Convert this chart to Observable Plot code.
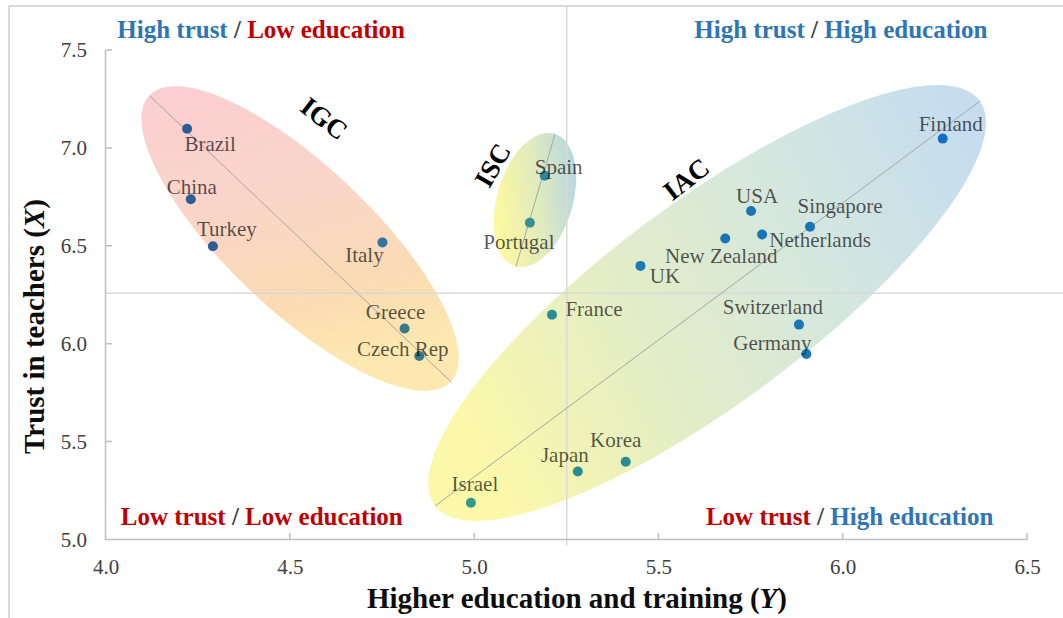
<!DOCTYPE html>
<html>
<head>
<meta charset="utf-8">
<script src="https://cdn.jsdelivr.net/npm/d3@7"></script>
<script src="https://cdn.jsdelivr.net/npm/@observablehq/plot@0.6"></script>
<style>
  html, body { margin: 0; padding: 0; background: #fff; }
  #wrap { position: relative; width: 1063px; height: 618px; overflow: hidden; }
  #frame { position: absolute; left: 8px; top: 5px; right: -4px; bottom: -4px;
           border-top: 2px solid #d9d9d9; border-left: 2px solid #d9d9d9; pointer-events: none; }
  svg { display: block; }
  svg text { font-family: 'Liberation Serif', 'Times New Roman', Times, serif; }
</style>
</head>
<body>
<div id="wrap"><div id="frame"></div></div>
<script>
// ---------------- data ----------------
const countries = ["Brazil","China","Turkey","Italy","Greece","Czech Rep","Spain","Portugal",
  "Finland","USA","New Zealand","Netherlands","Singapore","UK","France","Switzerland","Germany","Korea","Japan","Israel"];
const education = [4.22,4.23,4.29,4.75,4.81,4.85,5.19,5.15,
  6.27,5.75,5.68,5.78,5.91,5.45,5.21,5.88,5.90,5.41,5.28,4.99];
const trust = [7.10,6.74,6.50,6.52,6.08,5.94,6.86,6.62,
  7.05,6.68,6.54,6.56,6.60,6.40,6.15,6.10,5.95,5.40,5.35,5.19];

const clusterNames = ["IGC","ISC","IAC"];
const clusterCenterX = [4.528, 5.165, 5.632];
const clusterCenterY = [6.537, 6.734, 6.208];
const clusterTipX = [4.937, 5.218, 6.371];
const clusterTipY = [5.806, 7.072, 7.242];
const clusterLabelX = [4.591, 5.050, 5.575];
const clusterLabelY = [7.151, 6.913, 6.841];

const meanEducation = [5.25];
const meanTrust = [6.26];

const xTicks = [4.0, 4.5, 5.0, 5.5, 6.0, 6.5];
const yTicks = [5.0, 5.5, 6.0, 6.5, 7.0, 7.5];

const quadrantX = [4.422, 5.995, 4.424, 6.019];
const quadrantY = [7.602, 7.602, 5.116, 5.116];
const quadrantTrust = ["High trust", "High trust", "Low trust", "Low trust"];
const quadrantEdu = ["Low education", "High education", "Low education", "High education"];

// ---------------- styles ----------------
const ellipseRatio = [0.346, 0.55, 0.296];
const clusterRotate = [38, -60, -38];
const gradients = [
  {dir: [0, 0, 0.25, 1], stops: [[0, "#fbced2"], [0.45, "#fad5c8"], [0.8, "#fbdcb2"], [1, "#fde8b0"]]},
  {dir: [0, 0.3, 1, 0.1], stops: [[0, "#fbf8a0"], [0.5, "#dfeabf"], [1, "#b3d5e4"]]},
  {dir: [0, 0.6, 1, 0.2], stops: [[0, "#fbf8aa"], [0.35, "#e2edc8"], [0.7, "#d3e6e0"], [1, "#c5ddef"]]}
];
const dotColors = {
  "Brazil":"#2e5d96","China":"#2e5d96","Turkey":"#2e5d96","Italy":"#33739e","Greece":"#3a7a88","Czech Rep":"#3a7a88",
  "Spain":"#2a86a5","Portugal":"#3a8e96","Finland":"#1170c2","USA":"#1a72b8","New Zealand":"#1a72b8",
  "Netherlands":"#1a72b8","Singapore":"#1a74b8","UK":"#1c7cb4","France":"#2a8a9e","Switzerland":"#1a76b8",
  "Germany":"#1a76b8","Korea":"#2a8a96","Japan":"#2a8a96","Israel":"#35988a"
};
const labelOffsets = {
  "Brazil":[23,15],"China":[1,-12],"Turkey":[14,-17.5],"Italy":[-18,13],"Greece":[-9,-16],"Czech Rep":[-16.5,-7],
  "Spain":[14,-9],"Portugal":[-11,19.5],"Finland":[8,-14.5],"USA":[6,-14.5],"New Zealand":[-4,18],
  "Netherlands":[58,5.7],"Singapore":[30,-20.5],"UK":[24.5,10.5],"France":[42,-6],"Switzerland":[-26,-17.5],
  "Germany":[-34,-11],"Korea":[-10,-21],"Japan":[-13,-16.7],"Israel":[4,-18.4]
};
const FONT = "Liberation Serif";
const idx = countries.map((_, i) => i);
const cidx = clusterNames.map((_, i) => i);

function ellipsesMark(index, scales) {
  const {x, y} = scales;
  const g = d3.create("svg:g");
  const defs = g.append("defs");
  clusterNames.forEach((name, i) => {
    const cx = x(clusterCenterX[i]), cy = y(clusterCenterY[i]);
    const tx = x(clusterTipX[i]), ty = y(clusterTipY[i]);
    const a = Math.hypot(tx - cx, ty - cy), b = a * ellipseRatio[i];
    const ang = Math.atan2(ty - cy, tx - cx) * 180 / Math.PI;
    const ox = 2 * cx - tx, oy = 2 * cy - ty;
    const gd = gradients[i];
    const lg = defs.append("linearGradient").attr("id", "grad-" + name)
      .attr("x1", gd.dir[0]).attr("y1", gd.dir[1]).attr("x2", gd.dir[2]).attr("y2", gd.dir[3]);
    gd.stops.forEach(([o, c]) => lg.append("stop").attr("offset", o).attr("stop-color", c));
    g.append("path")
      .attr("d", `M${tx},${ty}A${a},${b} ${ang} 0 1 ${ox},${oy}A${a},${b} ${ang} 0 1 ${tx},${ty}Z`)
      .attr("fill", `url(#grad-${name})`);
  });
  return g.node();
}

function axisLinesMark(index, scales) {
  const {x, y} = scales;
  const x0 = xTicks[0], x1 = xTicks[xTicks.length - 1], y0 = yTicks[0], y1 = yTicks[yTicks.length - 1];
  let d = `M${x(x0)},${y(y1)}V${y(y0)}H${x(x1)}`;
  xTicks.forEach(t => d += `M${x(t)},${y(y0)}v-6.5`);
  yTicks.forEach(t => d += `M${x(x0)},${y(t)}h6.5`);
  const g = d3.create("svg:g");
  g.append("path").attr("d", d).attr("fill", "none").attr("stroke", "#bfbfbf").attr("stroke-width", 1.5);
  return g.node();
}

function quadrantMark(index, scales) {
  const {x, y} = scales;
  const g = d3.create("svg:g").attr("font-family", FONT).attr("font-weight", "bold").attr("font-size", 25);
  const col = s => s.startsWith("High") ? "#2e75b6" : "#c00000";
  quadrantX.forEach((qx, i) => {
    const t = g.append("text").attr("x", x(qx)).attr("y", y(quadrantY[i])).attr("dy", "0.33em")
      .attr("text-anchor", "middle");
    t.append("tspan").attr("fill", col(quadrantTrust[i])).text(quadrantTrust[i]);
    t.append("tspan").attr("fill", "#404040").text(" / ");
    t.append("tspan").attr("fill", col(quadrantEdu[i])).text(quadrantEdu[i]);
  });
  return g.node();
}

function titlesMark(index, scales, values, dimensions) {
  const g = d3.create("svg:g").attr("font-family", FONT).attr("font-weight", "bold").attr("font-size", 29).attr("fill", "#0d0d0d");
  const xt = g.append("text").attr("x", 577).attr("y", 608).attr("text-anchor", "middle");
  xt.append("tspan").text("Higher education and training (");
  xt.append("tspan").attr("font-style", "italic").text("Y");
  xt.append("tspan").text(")");
  const yt = g.append("text").attr("transform", "translate(43.5,326.5) rotate(-90)").attr("text-anchor", "middle");
  yt.append("tspan").text("Trust in teachers (");
  yt.append("tspan").attr("font-style", "italic").text("X");
  yt.append("tspan").text(")");
  return g.node();
}

const labelMarks = countries.map((c, i) => Plot.text([i], {
  x: j => education[j], y: j => trust[j], text: j => countries[j],
  dx: labelOffsets[c][0], dy: labelOffsets[c][1],
  fill: "#000", fillOpacity: 0.66, fontSize: 21, fontFamily: FONT
}));

const chart = Plot.plot({
  width: 1063, height: 618,
  marginLeft: 105.5, marginRight: 36, marginTop: 50, marginBottom: 78.5,
  x: {domain: [xTicks[0], xTicks[xTicks.length - 1]]},
  y: {domain: [yTicks[0], yTicks[yTicks.length - 1]]},
  color: {type: "identity"},
  style: {fontFamily: FONT, fontSize: "21px", background: "transparent", overflow: "visible"},
  marks: [
    ellipsesMark,
    Plot.ruleX(meanEducation, {stroke: "#d9d9d9", strokeWidth: 1.5, insetTop: -45, insetBottom: -6}),
    Plot.ruleY(meanTrust, {stroke: "#d9d9d9", strokeWidth: 1.5, insetRight: -36}),
    axisLinesMark,
    Plot.link(cidx, {
      x1: i => clusterTipX[i], y1: i => clusterTipY[i],
      x2: i => 2 * clusterCenterX[i] - clusterTipX[i], y2: i => 2 * clusterCenterY[i] - clusterTipY[i],
      stroke: "#a6a6a6", strokeWidth: 1
    }),
    Plot.dot(idx, {x: i => education[i], y: i => trust[i], r: 5, fill: i => dotColors[countries[i]], stroke: "none"}),
    ...labelMarks,
    Plot.text(cidx, {
      x: i => clusterLabelX[i], y: i => clusterLabelY[i], text: i => clusterNames[i],
      rotate: i => clusterRotate[i], fontSize: 27, fontWeight: "bold", fill: "#000", fontFamily: FONT
    }),
    quadrantMark,
    Plot.axisX({ticks: xTicks, tickFormat: d => d.toFixed(1), tickSize: 0, tickPadding: 19, label: null, fill: "#404040", fontFamily: FONT, fontSize: 21}),
    Plot.axisY({ticks: yTicks, tickFormat: d => d.toFixed(1), tickSize: 0, tickPadding: 19, label: null, fill: "#404040", fontFamily: FONT, fontSize: 21}),
    titlesMark
  ]
});
document.getElementById("wrap").prepend(chart);
</script>
</body>
</html>
